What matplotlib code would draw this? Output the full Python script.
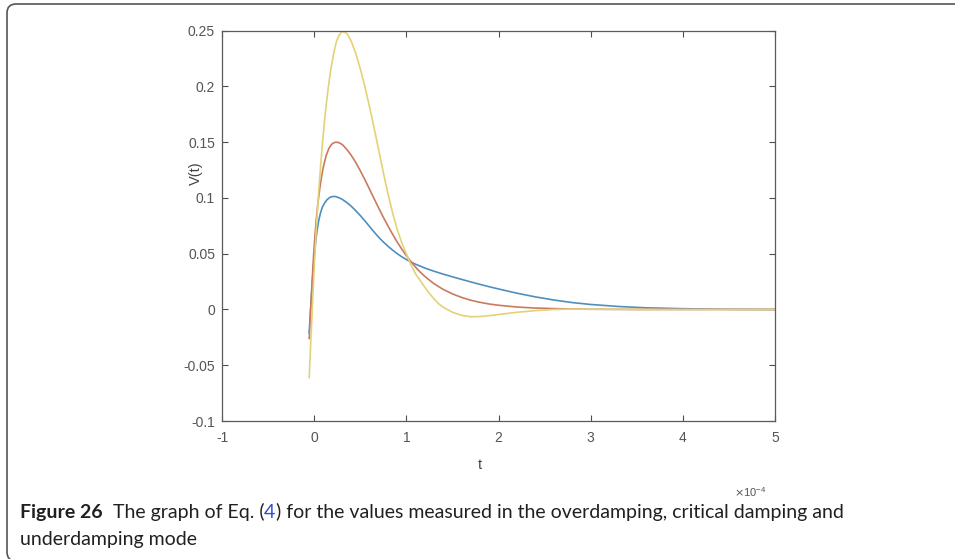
import matplotlib
matplotlib.use("Agg")
import matplotlib.pyplot as plt
from matplotlib import font_manager
from matplotlib.patches import FancyBboxPatch
from matplotlib.transforms import IdentityTransform

# ---------------- data (t in units of 1e-4 s) ----------------
t_over = [-0.054, -0.045, -0.035, -0.025, -0.015, -0.005, 0.005, 0.015, 0.03, 0.05,
          0.07, 0.09, 0.11, 0.14, 0.17, 0.20, 0.23, 0.26, 0.30, 0.35, 0.40, 0.45,
          0.50, 0.55, 0.60, 0.65, 0.70, 0.75, 0.80, 0.85, 0.90, 0.95, 1.00, 1.05,
          1.10, 1.20, 1.30, 1.40, 1.50, 1.60, 1.70, 1.80, 1.90, 2.00, 2.20, 2.40,
          2.60, 2.80, 3.00, 3.30, 3.60, 4.00, 4.50, 5.00]
v_over = [-0.021, -0.008, 0.005, 0.018, 0.030, 0.041, 0.051, 0.060, 0.070, 0.080,
          0.087, 0.092, 0.095, 0.0985, 0.1005, 0.1013, 0.1013, 0.1005, 0.0990, 0.0962, 0.0928, 0.0887,
          0.0843, 0.0795, 0.0745, 0.0695, 0.0648, 0.0606, 0.0568, 0.0533, 0.0501, 0.0473, 0.0448, 0.0426,
          0.0406, 0.0372, 0.0343, 0.0317, 0.0293, 0.0270, 0.0247, 0.0225, 0.0204, 0.0184, 0.0146, 0.0113,
          0.0085, 0.0062, 0.0045, 0.0027, 0.0015, 0.0007, 0.0002, 0.0]

t_crit = [-0.054, -0.045, -0.035, -0.025, -0.015, -0.005, 0.005, 0.02, 0.04, 0.06,
          0.08, 0.10, 0.13, 0.16, 0.19, 0.22, 0.25, 0.28, 0.31, 0.35, 0.40, 0.45,
          0.50, 0.55, 0.60, 0.65, 0.70, 0.75, 0.80, 0.85, 0.90, 0.95, 1.00, 1.05,
          1.10, 1.15, 1.20, 1.30, 1.40, 1.50, 1.60, 1.70, 1.80, 1.90, 2.00, 2.20,
          2.40, 2.60, 2.80, 3.00, 3.50, 4.00, 5.00]
v_crit = [-0.026, -0.011, 0.005, 0.021, 0.036, 0.050, 0.062, 0.078, 0.095, 0.108,
          0.119, 0.128, 0.138, 0.1445, 0.1482, 0.1498, 0.1500, 0.1492, 0.1475, 0.1440, 0.1385, 0.1320,
          0.1245, 0.1165, 0.1080, 0.0995, 0.0910, 0.0828, 0.0750, 0.0676, 0.0606, 0.0542, 0.0483, 0.0429,
          0.0380, 0.0336, 0.0297, 0.0231, 0.0180, 0.0140, 0.0108, 0.0083, 0.0064, 0.0049, 0.0038, 0.0022,
          0.0013, 0.0008, 0.0004, 0.0002, 0.0, 0.0, 0.0]

t_under = [-0.054, -0.048, -0.040, -0.030, -0.020, -0.010, 0.0, 0.015, 0.03, 0.05,
           0.07, 0.09, 0.11, 0.13, 0.15, 0.18, 0.21, 0.24, 0.27, 0.30, 0.33, 0.36,
           0.40, 0.45, 0.50, 0.55, 0.60, 0.65, 0.70, 0.75, 0.80, 0.85, 0.90, 0.95,
           1.00, 1.05, 1.10, 1.15, 1.20, 1.25, 1.30, 1.35, 1.40, 1.50, 1.60, 1.70,
           1.80, 1.90, 2.00, 2.20, 2.40, 2.60, 2.80, 3.00, 3.50, 4.00, 5.00]
v_under = [-0.061, -0.050, -0.035, -0.017, 0.001, 0.019, 0.036, 0.060, 0.082, 0.107,
           0.129, 0.149, 0.167, 0.183, 0.197, 0.215, 0.229, 0.240, 0.246, 0.249, 0.249, 0.247,
           0.241, 0.230, 0.216, 0.200, 0.182, 0.163, 0.143, 0.123, 0.104, 0.087, 0.072, 0.060,
           0.050, 0.040, 0.032, 0.026, 0.020, 0.0145, 0.0095, 0.0052, 0.0020, -0.0025, -0.0052, -0.0065,
           -0.0063, -0.0055, -0.0045, -0.0025, -0.0010, 0.0, 0.0003, 0.0003, 0.0001, 0.0, 0.0]

x_ticks = [-1, 0, 1, 2, 3, 4, 5]
x_tick_labels = ["-1", "0", "1", "2", "3", "4", "5"]
y_ticks = [-0.1, -0.05, 0, 0.05, 0.1, 0.15, 0.2, 0.25]
y_tick_labels = ["-0.1", "-0.05", "0", "0.05", "0.1", "0.15", "0.2", "0.25"]

caption_bold = "Figure 26"
caption_a = "  The graph of Eq. ("
caption_ref = "4"
caption_b = ") for the values measured in the overdamping, critical damping and"
caption_line2 = "underdamping mode"

# ---------------- figure ----------------
W, H = 955, 559
fig = plt.figure(figsize=(W / 100, H / 100), dpi=100)
fig.patch.set_facecolor("white")

names = {f.name for f in font_manager.fontManager.ttflist}
axis_font = "Liberation Sans" if "Liberation Sans" in names else "DejaVu Sans"
cap_font = "Lato" if "Lato" in names else "DejaVu Sans"

# frame (pixel coordinates, origin bottom-left)
frame = FancyBboxPatch((7, -2), 1000, H - 4 + 2,
                       boxstyle="round,pad=0,rounding_size=9",
                       transform=IdentityTransform(), facecolor="none",
                       edgecolor="#555555", linewidth=1.2, clip_on=False)
fig.patches.append(frame)

ax = fig.add_axes([222 / W, 1 - 421 / H, (775 - 222) / W, (421 - 30.7) / H])

ax.plot(t_over, v_over, color="#4f8fbf", lw=1.2)
ax.plot(t_crit, v_crit, color="#c97a60", lw=1.2)
ax.plot(t_under, v_under, color="#e3d277", lw=1.2)

ax.set_xlim(-1, 5)
ax.set_ylim(-0.1, 0.25)
ax.set_xticks(x_ticks)
ax.set_xticklabels(x_tick_labels)
ax.set_yticks(y_ticks)
ax.set_yticklabels(y_tick_labels)
ax.tick_params(direction="in", length=4.5, width=0.8, colors="#4d4d4d",
               labelsize=10, top=True, right=True)
ax.tick_params(axis="x", pad=7)
ax.tick_params(axis="y", pad=5)
for lab in ax.get_xticklabels() + ax.get_yticklabels():
    lab.set_fontfamily(axis_font)
    lab.set_color("#555555")
for s in ax.spines.values():
    s.set_color("#5a5a5a")
    s.set_linewidth(0.9)

ax.set_xlabel("t", fontsize=10.5, color="#444444", fontfamily=axis_font)
ax.xaxis.set_label_coords((480 - 222) / 553, (421 - 458) / 390.3)
ax.set_ylabel("V(t)", fontsize=10.5, color="#444444", fontfamily=axis_font)
ax.yaxis.set_label_coords((203 - 222) / 553, 0.635)

fig.text(766 / W, 1 - 492 / H, r"$\times\mathregular{10^{-4}}$", fontsize=8,
         color="#555555", ha="right", va="center", fontfamily=axis_font)

# caption
fig.canvas.draw()
r = fig.canvas.get_renderer()
cap_size = 14
x0 = 20 / W
y1 = 1 - 518 / H
y2 = 1 - 545 / H
t1 = fig.text(x0, y1, caption_bold, fontsize=cap_size, fontweight="bold",
              fontfamily=cap_font, color="#231f20", va="baseline")
x = t1.get_window_extent(r).x1 / W
t2 = fig.text(x, y1, caption_a, fontsize=cap_size, fontfamily=cap_font,
              color="#231f20", va="baseline")
x = t2.get_window_extent(r).x1 / W
t3 = fig.text(x, y1, caption_ref, fontsize=cap_size, fontfamily=cap_font,
              color="#2a4fd6", va="baseline")
x = t3.get_window_extent(r).x1 / W
fig.text(x, y1, caption_b, fontsize=cap_size, fontfamily=cap_font,
         color="#231f20", va="baseline")
fig.text(x0, y2, caption_line2, fontsize=cap_size, fontfamily=cap_font,
         color="#231f20", va="baseline")

fig.savefig("out.png", dpi=100, facecolor="white")
